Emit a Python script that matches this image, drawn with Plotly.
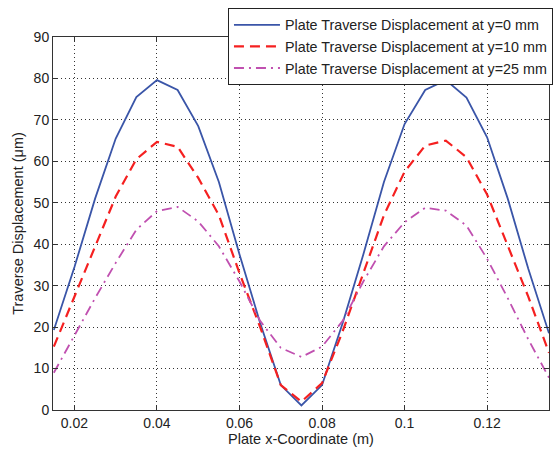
import plotly.graph_objects as go

x_coord = [0.015, 0.02, 0.025, 0.03, 0.035, 0.04, 0.045, 0.05, 0.055, 0.06, 0.065, 0.07, 0.075,
           0.08, 0.085, 0.09, 0.095, 0.1, 0.105, 0.11, 0.115, 0.12, 0.125, 0.13, 0.135]
disp_y0 = [19.3, 34.5, 51, 65.5, 75.5, 79.6, 77.2, 68.5, 55, 37.5, 21, 6, 1.1,
           6, 21, 37.5, 55, 69, 77.2, 79.6, 75.4, 65.8, 51, 34, 18.5]
disp_y10 = [15.3, 27.5, 39.5, 51.5, 60.5, 64.7, 63.5, 56, 47, 33, 20, 6, 2,
            6.5, 19, 33, 47, 57.5, 63.8, 65, 61, 52, 39.5, 27.3, 13.8]
disp_y25 = [9, 18, 27, 35.5, 43.5, 48, 49, 45.5, 39.5, 31, 21.5, 15, 12.8,
            15.3, 21.5, 31, 39.5, 45.3, 48.8, 48.1, 44.5, 36.5, 27, 17, 7.8]
names = ["Plate Traverse Displacement at y=0 mm",
         "Plate Traverse Displacement at y=10 mm",
         "Plate Traverse Displacement at y=25 mm"]
x_ticks = [0.02, 0.04, 0.06, 0.08, 0.1, 0.12]
x_tick_labels = ["0.02", "0.04", "0.06", "0.08", "0.1", "0.12"]
y_ticks = [0, 10, 20, 30, 40, 50, 60, 70, 80, 90]

fig = go.Figure()
styles = [
    dict(color="#3a55a8", width=1.8, dash="solid"),
    dict(color="#f52020", width=2.2, dash="10px,6px"),
    dict(color="#c050b0", width=1.8, dash="10px,5px,2px,5px"),
]
for i, (ys, nm) in enumerate(zip([disp_y0, disp_y10, disp_y25], names)):
    fig.add_trace(go.Scatter(x=x_coord, y=ys, mode="lines", name=nm, line=styles[i]))

axis_common = dict(showline=True, linecolor="#333", linewidth=1, mirror="ticks",
                   ticks="inside", ticklen=5, tickcolor="#333", automargin=False,
                   showgrid=True, gridcolor="#333", griddash="1px,3px", gridwidth=1,
                   zeroline=False, tickfont=dict(size=14, color="#222"))
fig.update_xaxes(range=[0.0148, 0.135], tickvals=x_ticks, ticktext=x_tick_labels,
                 title=dict(text="Plate x-Coordinate (m)", font=dict(size=14.5, color="#222"),
                            standoff=3), **axis_common)
fig.update_yaxes(range=[0, 90], tickvals=y_ticks,
                 title=dict(text="Traverse Displacement (μm)", font=dict(size=14.5, color="#222"),
                            standoff=6), **axis_common)

fig.update_layout(
    width=558, height=452,
    margin=dict(l=53, r=9, t=37, b=42, autoexpand=False),
    paper_bgcolor="white", plot_bgcolor="white",
    font=dict(family="Liberation Sans, Arial, sans-serif", color="#222"),
    legend=dict(x=1.008, y=1.0777, xanchor="right", yanchor="top",
                bgcolor="white", bordercolor="#222", borderwidth=1,
                font=dict(size=14.3, color="#222"), itemwidth=46),
)
fig.write_html("out.html", config={"displayModeBar": False},
               post_script="document.body.style.margin='0';document.body.style.overflow='hidden';")
